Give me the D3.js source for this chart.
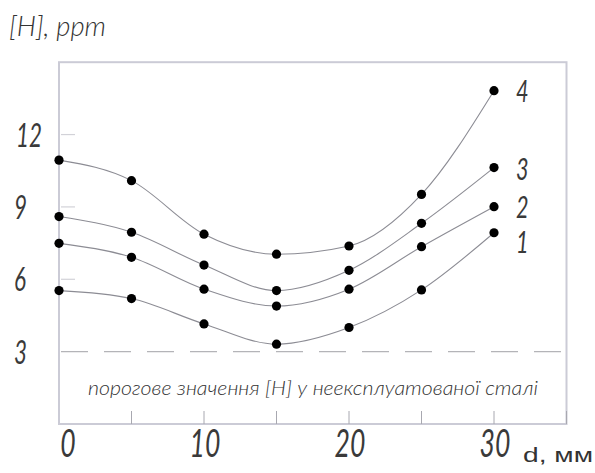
<!DOCTYPE html>
<html>
<head>
<meta charset="utf-8">
<script src="https://cdn.jsdelivr.net/npm/d3@7"></script>
<style>
  html, body { margin: 0; padding: 0; background: #fff; }
  svg { display: block; }
  .lbl { font-family: Lato, "DejaVu Sans", sans-serif; font-style: italic; font-weight: 400; fill: #3a3a3a; }
  .cap { font-family: Lato, "DejaVu Sans", sans-serif; font-style: italic; font-weight: 300; fill: #333; }
</style>
</head>
<body>
<svg id="chart" width="595" height="473"></svg>
<script>
// Distance from the surface, mm
const depths = [0, 5, 10, 15, 20, 25, 30];

// Hydrogen content [H], ppm, for each numbered curve
const series1 = [5.53, 5.20, 4.15, 3.31, 4.00, 5.56, 7.93];
const series2 = [7.49, 6.91, 5.59, 4.89, 5.59, 7.35, 9.01];
const series3 = [8.60, 7.95, 6.59, 5.53, 6.37, 8.32, 10.63];
const series4 = [10.94, 10.09, 7.87, 7.04, 7.38, 9.52, 13.82];
const seriesNames = ["1", "2", "3", "4"];

// Threshold level for unused steel
const threshold = 3;

// Axis ticks
const yTickValues = [3, 6, 9, 12];
const xTickValues = [0, 10, 20, 30];
const xMinorTicks = [5, 10, 15, 20, 25, 30, 35];

const allSeries = [series1, series2, series3, series4];

const svg = d3.select("#chart");

const x = d3.scaleLinear().domain([0, 30]).range([59, 494]);
const y = d3.scaleLinear().domain([0, 15]).range([424, 62.2]);

const xMax = 35, yMax = 15;

// Narrow drafting-style label: horizontally squeezed italic
function draftText(parent, px, py, str, size, anchor) {
  return parent.append("text")
    .attr("class", "lbl")
    .attr("transform", `translate(${px},${py}) scale(0.7,1)`)
    .attr("font-size", size)
    .attr("text-anchor", anchor || "start")
    .text(str);
}

// Frame
svg.append("rect")
  .attr("x", x(0)).attr("y", y(yMax))
  .attr("width", x(xMax) - x(0)).attr("height", y(0) - y(yMax))
  .attr("fill", "none").attr("stroke", "#cbcbd6").attr("stroke-width", 2);

// Short inner ticks on the left side
svg.append("g").selectAll("line")
  .data(yTickValues.filter(v => v !== threshold))
  .join("line")
  .attr("x1", x(0) + 2).attr("x2", x(0) + 16)
  .attr("y1", d => y(d)).attr("y2", d => y(d))
  .attr("stroke", "#d2d2d8").attr("stroke-width", 1.2);

// Short inner ticks along the bottom
svg.append("g").selectAll("line")
  .data(xMinorTicks)
  .join("line")
  .attr("x1", d => x(d)).attr("x2", d => x(d))
  .attr("y1", y(0)).attr("y2", y(0) - 13)
  .attr("stroke", "#a8a8b0").attr("stroke-width", 1);

// Threshold dashed line
svg.append("line")
  .attr("x1", x(0) + 2).attr("x2", x(xMax))
  .attr("y1", y(threshold)).attr("y2", y(threshold))
  .attr("stroke", "#b4b4b8").attr("stroke-width", 1.4)
  .attr("stroke-dasharray", "27,16");

// Curves
const line = d3.line()
  .x((d, i) => x(depths[i]))
  .y(d => y(d))
  .curve(d3.curveMonotoneX);

svg.append("g").selectAll("path")
  .data(allSeries)
  .join("path")
  .attr("d", line)
  .attr("fill", "none")
  .attr("stroke", "#8c8c94")
  .attr("stroke-width", 1.1);

// Points
allSeries.forEach(s => {
  svg.append("g").selectAll("circle")
    .data(s)
    .join("circle")
    .attr("cx", (d, i) => x(depths[i]))
    .attr("cy", d => y(d))
    .attr("r", 4.6)
    .attr("fill", "#000");
});

// Curve numbers at the right end (vertical nudge per curve)
const numberShift = [20, 11, 12, 11];
const gNum = svg.append("g");
allSeries.forEach((s, i) => {
  draftText(gNum, x(30) + 22, y(s[s.length - 1]) + numberShift[i], seriesNames[i], 31);
});

// Y tick labels
const gY = svg.append("g");
yTickValues.forEach(v => {
  draftText(gY, v >= 10 ? 16 : 14, y(v) + 12, String(v), 32);
});

// X tick labels
const gX = svg.append("g");
xTickValues.forEach(v => {
  draftText(gX, x(v) + (v === 0 ? 9 : 1), 457, String(v), 38, "middle");
});

// Axis titles
svg.append("text")
  .attr("class", "cap")
  .attr("x", 9).attr("y", 36)
  .attr("font-size", 27)
  .attr("textLength", 97).attr("lengthAdjust", "spacingAndGlyphs")
  .text("[H], ppm");

svg.append("text")
  .attr("x", 523).attr("y", 462)
  .attr("font-family", "'Liberation Sans', Arial, sans-serif")
  .attr("font-size", 21)
  .attr("fill", "#333")
  .attr("textLength", 70).attr("lengthAdjust", "spacingAndGlyphs")
  .text("d, мм");

// Threshold caption
svg.append("text")
  .attr("class", "cap")
  .attr("x", 88).attr("y", 395)
  .attr("font-size", 20)
  .attr("textLength", 450).attr("lengthAdjust", "spacingAndGlyphs")
  .text("порогове значення  [H] у неексплуатованої сталі");
</script>
</body>
</html>
